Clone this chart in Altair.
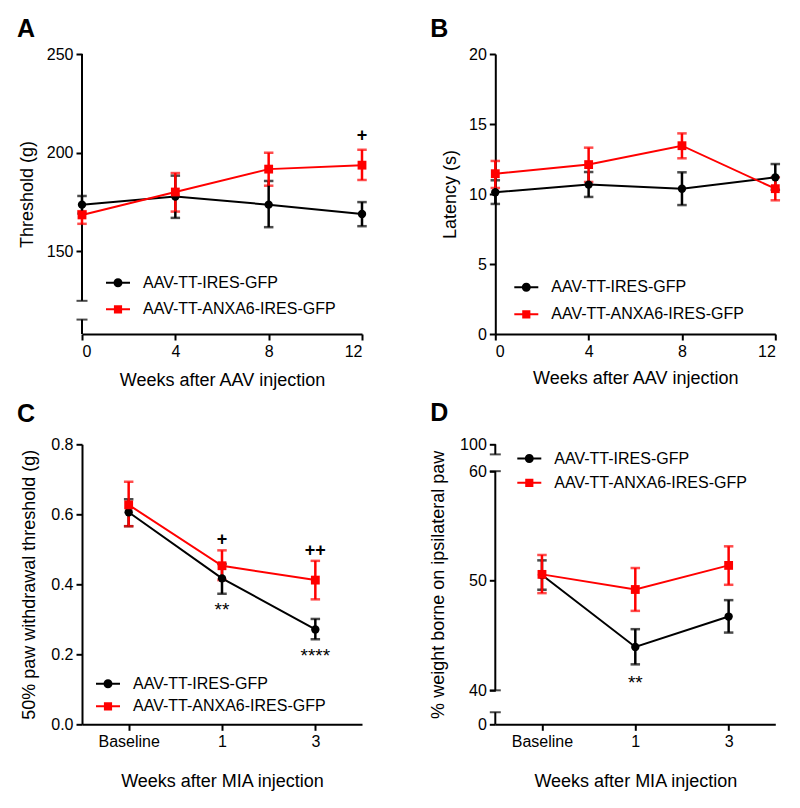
import altair as alt
import pandas as pd

FONT = "Liberation Sans"
G1 = "AAV-TT-IRES-GFP"
G2 = "AAV-TT-ANXA6-IRES-GFP"
GROUPS = [G1, G2]
COLORS = ["#000000", "#ff0000"]

# ---------------- Panel A : mechanical threshold ----------------
a_weeks = [0, 4, 8, 12]
a_ctrl_mean = [173.7, 177.8, 173.7, 169.0]
a_ctrl_lo = [169.2, 167.0, 162.3, 162.8]
a_ctrl_hi = [178.1, 188.4, 185.7, 175.0]
a_anx_mean = [168.5, 180.1, 191.7, 193.7]
a_anx_lo = [164.0, 170.2, 183.3, 186.2]
a_anx_hi = [170.4, 189.7, 200.0, 201.5]

# ---------------- Panel B : latency ----------------
b_weeks = [0, 4, 8, 12]
b_ctrl_mean = [10.12, 10.67, 10.38, 11.19]
b_ctrl_lo = [9.29, 9.79, 9.21, 10.30]
b_ctrl_hi = [10.98, 11.57, 11.55, 12.14]
b_anx_mean = [11.45, 12.10, 13.45, 10.38]
b_anx_lo = [10.43, 10.86, 12.55, 9.55]
b_anx_hi = [12.36, 13.31, 14.33, 11.19]

# ---------------- Panel C : 50% paw withdrawal threshold ----------------
c_weeks = ["Baseline", "1", "3"]
c_ctrl_mean = [0.606, 0.417, 0.271]
c_ctrl_lo = [0.566, 0.373, 0.243]
c_ctrl_hi = [0.643, 0.458, 0.301]
c_anx_mean = [0.627, 0.453, 0.412]
c_anx_lo = [0.566, 0.412, 0.357]
c_anx_hi = [0.693, 0.497, 0.467]

# ---------------- Panel D : % weight on ipsilateral paw ----------------
d_weeks = ["Baseline", "1", "3"]
d_ctrl_mean = [50.52, 43.96, 46.73]
d_ctrl_lo = [49.18, 42.37, 45.27]
d_ctrl_hi = [51.86, 45.58, 48.23]
d_anx_mean = [50.58, 49.20, 51.40]
d_anx_lo = [48.87, 47.25, 49.63]
d_anx_hi = [52.35, 51.16, 53.14]

# significance marks
a_notes = [("+", 12, 209.7)]
c_notes = [("+", "1", 0.533), ("++", "3", 0.500), ("**", "1", 0.340), ("****", "3", 0.210)]
d_notes = [("**", "1", 41.1)]

# broken-axis pieces (data units on each y scale)
a_segments = [(125.0, 250.0), (108.2, 115.5)]
a_caps = [125.0, 115.5]
d_segments = [(61.53, 62.45), (40.0, 60.0), (36.9, 38.0)]
d_caps = [61.53, 60.0, 40.0, 38.0]

# legend glyphs: a short line with a marker on it (filled paths, unit box -1..1)
PATH_CIRCLE = ("M-1,-0.085L1,-0.085L1,0.085L-1,0.085Z"
               "M0.375,0A0.375,0.375,0,1,1,-0.375,0A0.375,0.375,0,1,1,0.375,0Z")
PATH_SQUARE = ("M-1,-0.085L1,-0.085L1,0.085L-1,0.085Z"
               "M-0.34,-0.34L0.34,-0.34L0.34,0.34L-0.34,0.34Z")
PATHS = [PATH_CIRCLE, PATH_SQUARE]


def series_df(xs, cm, cl, ch, am, al, ah):
    rows = []
    for i, x in enumerate(xs):
        rows.append(dict(x=x, group=G1, mean=cm[i], lo=cl[i], hi=ch[i]))
    for i, x in enumerate(xs):
        rows.append(dict(x=x, group=G2, mean=am[i], lo=al[i], hi=ah[i]))
    return pd.DataFrame(rows)


def panel(df, X, y_scale, y_axis, letter, title_offset, legend_x, legend_ys,
          notes=None, segments=None, caps=None):
    def Y(field):
        return alt.Y(field, scale=y_scale, axis=y_axis)

    color = alt.Color("group:N", scale=alt.Scale(domain=GROUPS, range=COLORS), legend=None)
    base = alt.Chart(df)
    err = base.mark_errorbar(ticks=True, thickness=2.5, size=9.5).encode(
        x=X, y=Y("lo:Q"), y2="hi:Q", color=color)
    line = base.mark_line(strokeWidth=2).encode(x=X, y=Y("mean:Q"), color=color)
    p1 = base.transform_filter(alt.datum.group == G1).mark_point(
        shape="circle", filled=True, size=70, opacity=1, color="#000000"
    ).encode(x=X, y=Y("mean:Q"))
    p2 = base.transform_filter(alt.datum.group == G2).mark_point(
        shape="square", filled=True, size=78, opacity=1, color="#ff0000"
    ).encode(x=X, y=Y("mean:Q"))

    # one single-entry legend per series (line + marker glyph)
    legend_layers = []
    for g, col, path, ly in zip(GROUPS, COLORS, PATHS, legend_ys):
        leg = alt.Legend(
            title=None, orient="none", legendX=legend_x, legendY=ly,
            symbolType=path, symbolSize=576, symbolStrokeWidth=0, symbolOpacity=1,
            labelFont=FONT, labelFontSize=16, labelColor="black", labelOffset=13,
            labelLimit=400, padding=0)
        legend_layers.append(
            base.transform_filter(alt.datum.group == g).mark_point(filled=True, opacity=0).encode(
                x=X, y=Y("mean:Q"),
                fill=alt.Fill("group:N", scale=alt.Scale(domain=[g], range=[col]), legend=leg)))

    layers = []
    if segments is not None:
        seg_df = pd.DataFrame({"y0": [s[0] for s in segments], "y1": [s[1] for s in segments]})
        layers.append(alt.Chart(seg_df).mark_rule(color="black", strokeWidth=2).encode(
            x=alt.value(0), y=Y("y0:Q"), y2="y1:Q"))
        cap_df = pd.DataFrame({"yc": caps})
        layers.append(alt.Chart(cap_df).mark_tick(
            orient="horizontal", color="black", size=11, thickness=2).encode(
            x=alt.value(0), y=Y("yc:Q")))
    layers += [err, line, p1, p2] + legend_layers
    if notes:
        n_df = pd.DataFrame({"x": [n[1] for n in notes], "y": [n[2] for n in notes],
                             "label": [n[0] for n in notes]})
        plus = n_df[n_df["label"].str.startswith("+")]
        star = n_df[n_df["label"].str.startswith("*")]
        if len(plus):
            layers.append(alt.Chart(plus).mark_text(
                font=FONT, fontSize=18, fontWeight="bold", color="black", baseline="middle", dy=2
            ).encode(x=X, y=Y("y:Q"), text="label:N"))
        if len(star):
            layers.append(alt.Chart(star).mark_text(
                font=FONT, fontSize=19, color="black", baseline="middle", dy=5
            ).encode(x=X, y=Y("y:Q"), text="label:N"))

    return alt.layer(*layers).resolve_scale(fill="independent").properties(
        width=280, height=280,
        title=alt.TitleParams(text=letter, anchor="start", frame="group", font=FONT,
                              fontSize=25, fontWeight="bold", color="black",
                              dx=-65, offset=title_offset, baseline="alphabetic"))


# --- A
dfA = series_df(a_weeks, a_ctrl_mean, a_ctrl_lo, a_ctrl_hi, a_anx_mean, a_anx_lo, a_anx_hi)
XA = alt.X("x:Q", scale=alt.Scale(domain=[0, 12], nice=False, zero=False),
           axis=alt.Axis(values=[0, 4, 8, 12], title="Weeks after AAV injection", titlePadding=12))
chartA = panel(dfA, XA,
               alt.Scale(domain=[108.2, 250], nice=False, zero=False),
               alt.Axis(values=[150, 200, 250], domain=False, title="Threshold (g)", titlePadding=10),
               "A", -15.6, 24, (216.7, 243.3), notes=a_notes, segments=a_segments, caps=a_caps)

# --- B
dfB = series_df(b_weeks, b_ctrl_mean, b_ctrl_lo, b_ctrl_hi, b_anx_mean, b_anx_lo, b_anx_hi)
XB = alt.X("x:Q", scale=alt.Scale(domain=[0, 12], nice=False, zero=False),
           axis=alt.Axis(values=[0, 4, 8, 12], title="Weeks after AAV injection", titlePadding=10))
chartB = panel(dfB, XB,
               alt.Scale(domain=[0, 20], nice=False),
               alt.Axis(values=[0, 5, 10, 15, 20], title="Latency (s)", titlePadding=9),
               "B", -15.6, 19, (221.3, 248.3))

# --- C
dfC = series_df(c_weeks, c_ctrl_mean, c_ctrl_lo, c_ctrl_hi, c_anx_mean, c_anx_lo, c_anx_hi)
XC = alt.X("x:N", scale=alt.Scale(type="point", domain=c_weeks, padding=0.5),
           axis=alt.Axis(labelAngle=0, title="Weeks after MIA injection", titlePadding=23))
chartC = panel(dfC, XC,
               alt.Scale(domain=[0, 0.8], nice=False),
               alt.Axis(values=[0, 0.2, 0.4, 0.6, 0.8], format=".1f",
                        title="50% paw withdrawal threshold (g)", titlePadding=12),
               "C", -10.8, 14, (227.4, 250.0), notes=c_notes)

# --- D
dfD = series_df(d_weeks, d_ctrl_mean, d_ctrl_lo, d_ctrl_hi, d_anx_mean, d_anx_lo, d_anx_hi)
XD = alt.X("x:N", scale=alt.Scale(type="point", domain=d_weeks, padding=0.5),
           axis=alt.Axis(labelAngle=0, title="Weeks after MIA injection", titlePadding=23))
chartD = panel(dfD, XD,
               alt.Scale(domain=[36.9, 62.45], nice=False, zero=False),
               alt.Axis(values=[36.9, 40, 50, 60, 62.45], domain=False,
                        labelExpr="datum.value > 61 ? '100' : (datum.value < 39 ? '0' : datum.label)",
                        title="% weight borne on ipsilateral paw", titlePadding=12),
               "D", -10.1, 22, (2.2, 26.5), notes=d_notes, segments=d_segments, caps=d_caps)

chart = alt.concat(chartA, chartB, chartC, chartD, columns=2,
                   spacing={"row": 110.3, "column": 133.3}, bounds="flush").configure_view(
    stroke=None
).configure_axis(
    domainColor="black", domainWidth=2, tickColor="black", tickWidth=2, tickSize=6,
    labelFont=FONT, labelFontSize=16, labelColor="black", labelPadding=3,
    titleFont=FONT, titleFontSize=18, titleFontWeight="normal", titleColor="black",
    grid=False
).properties(
    padding={"left": 9, "top": 8, "right": 5, "bottom": 5},
    background="white"
)

chart.save("out.html", embed_options={"renderer": "svg", "actions": False})
